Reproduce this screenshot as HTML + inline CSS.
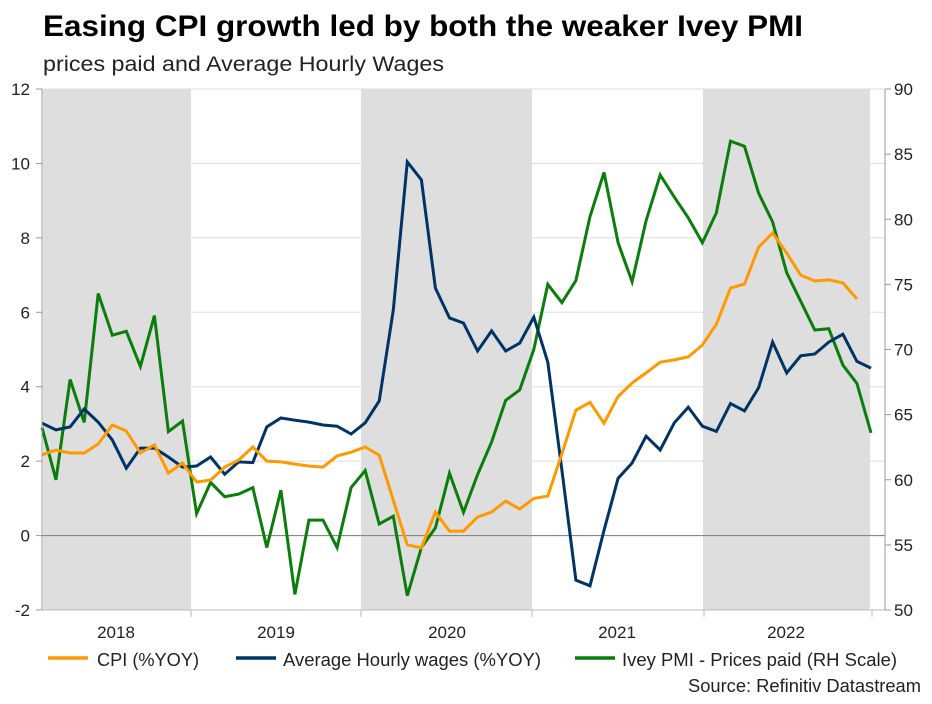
<!DOCTYPE html>
<html><head><meta charset="utf-8"><style>
body{margin:0;background:#fff;font-family:"Liberation Sans",Arial,sans-serif;}
svg text{font-family:"Liberation Sans",Arial,sans-serif;}
</style></head><body>
<svg width="932" height="699" xmlns="http://www.w3.org/2000/svg">
<text x="43" y="36" font-size="30" font-weight="bold" fill="#000" textLength="760" lengthAdjust="spacingAndGlyphs">Easing CPI growth led by both the weaker Ivey PMI</text>
<text x="43" y="71" font-size="21" fill="#222" textLength="401" lengthAdjust="spacingAndGlyphs">prices paid and Average Hourly Wages</text>
<g id="bands"></g>
<g id="grid"></g>
<g id="series"></g>
<g id="axes"></g>
<g>
<line x1="48" y1="658" x2="88" y2="658" stroke="#f90" stroke-width="3.5"/>
<text x="97" y="666" font-size="18" fill="#222" textLength="102" lengthAdjust="spacingAndGlyphs">CPI (%YOY)</text>
<line x1="236" y1="658" x2="276" y2="658" stroke="#003366" stroke-width="3.5"/>
<text x="283" y="666" font-size="18" fill="#222" textLength="258" lengthAdjust="spacingAndGlyphs">Average Hourly wages (%YOY)</text>
<line x1="575" y1="658" x2="615" y2="658" stroke="#0a7d0a" stroke-width="3.5"/>
<text x="622" y="666" font-size="18" fill="#222" textLength="275" lengthAdjust="spacingAndGlyphs">Ivey PMI - Prices paid (RH Scale)</text>
</g>
<text x="688" y="692" font-size="18" fill="#222" textLength="233" lengthAdjust="spacingAndGlyphs">Source: Refinitiv Datastream</text>
</svg>
<script>
const years=["2018","2019","2020","2021","2022"];
const leftTicks=[-2,0,2,4,6,8,10,12];
const rightTicks=[50,55,60,65,70,75,80,85,90];
const cpi=[2.17,2.3,2.22,2.22,2.46,2.97,2.81,2.22,2.44,1.68,1.95,1.44,1.49,1.84,2.03,2.38,2.0,1.98,1.92,1.87,1.84,2.14,2.24,2.38,2.16,0.95,-0.25,-0.33,0.63,0.12,0.12,0.5,0.63,0.93,0.71,1.0,1.06,2.2,3.37,3.58,3.02,3.74,4.1,4.37,4.66,4.72,4.8,5.12,5.68,6.65,6.76,7.75,8.13,7.59,7.0,6.84,6.87,6.79,6.36];
const wages=[3.02,2.84,2.92,3.4,3.05,2.57,1.81,2.35,2.35,2.11,1.84,1.87,2.11,1.65,1.98,1.96,2.92,3.16,3.1,3.05,2.97,2.94,2.73,3.03,3.62,6.06,10.04,9.56,6.65,5.85,5.71,4.96,5.5,4.96,5.17,5.87,4.66,1.76,-1.2,-1.35,0.14,1.54,1.95,2.67,2.3,3.03,3.45,2.94,2.8,3.55,3.35,3.97,5.2,4.37,4.83,4.88,5.2,5.41,4.68,4.5];
const pmi=[64.0,60.0,67.7,64.4,74.3,71.1,71.4,68.7,72.6,63.7,64.5,57.4,59.8,58.7,58.9,59.4,54.8,59.2,51.2,56.9,56.9,54.8,59.4,60.7,56.6,57.2,51.1,54.8,56.3,60.5,57.5,60.4,62.9,66.1,66.9,70.0,75.0,73.6,75.3,80.2,83.6,78.2,75.2,79.9,83.4,81.7,80.1,78.2,80.5,86.0,85.6,82.0,79.8,75.9,73.7,71.5,71.6,68.8,67.4,63.6];
const NS="http://www.w3.org/2000/svg";
const X0=42,X1=885,YT=89,YB=610;
const xi=i=>42+14.05*i;
const yL=v=>YB-(v+2)/14*(YB-YT);
const yR=v=>YB-(v-50)/40*(YB-YT);
function mk(t,a,p){const e=document.createElementNS(NS,t);for(const k in a)e.setAttribute(k,a[k]);document.getElementById(p).appendChild(e);return e;}
const bandX=[[43,191],[361,532],[703,870]];
bandX.forEach((b,k)=>{const r=mk('rect',{x:b[0],y:YT,width:b[1]-b[0],height:YB-YT,fill:'#dedede'},'bands');

});
leftTicks.forEach(v=>{const y=yL(v);
const l=mk('line',{x1:X0,x2:X1,y1:y,y2:y,stroke:v===0?'#888':'#ddd','stroke-width':v===0?1.2:1},'grid');


mk('line',{x1:36,x2:X0,y1:y,y2:y,stroke:'#999'},'axes');
const t=mk('text',{x:30,y:y+6,'font-size':17,'text-anchor':'end',fill:'#222'},'axes');t.textContent=v;

});
rightTicks.forEach(v=>{const y=yR(v);
mk('line',{x1:X1,x2:X1+6,y1:y,y2:y,stroke:'#999'},'axes');
const t=mk('text',{x:894,y:y+6,'font-size':17,fill:'#222'},'axes');t.textContent=v;

});
mk('line',{x1:X0,x2:X0,y1:YT,y2:YB,stroke:'#999'},'axes');
mk('line',{x1:X1,x2:X1,y1:YT,y2:YB,stroke:'#999'},'axes');
mk('line',{x1:X0,x2:X1,y1:YB,y2:YB,stroke:'#bbb'},'axes');
const yearCx=[116,276,447,617,786];
years.forEach((yr,k)=>{
const t=mk('text',{x:yearCx[k],y:638,'font-size':17,'text-anchor':'middle',fill:'#222'},'axes');t.textContent=yr;

});
[191,361,532,704,872].forEach(x=>mk('line',{x1:x,x2:x,y1:YB,y2:YB+7,stroke:'#bbb'},'axes'));
function line(d,f,c,name){const pts=d.map((v,i)=>xi(i).toFixed(1)+','+f(v).toFixed(1)).join(' ');
const p=mk('polyline',{points:pts,fill:'none',stroke:c,'stroke-width':3,'stroke-linejoin':'miter'},'series');

}
line(pmi,yR,'#0a7d0a','pmi-line');
line(wages,yL,'#003366','wages-line');
line(cpi,yL,'#f90','cpi-line');
</script>
</body></html>
